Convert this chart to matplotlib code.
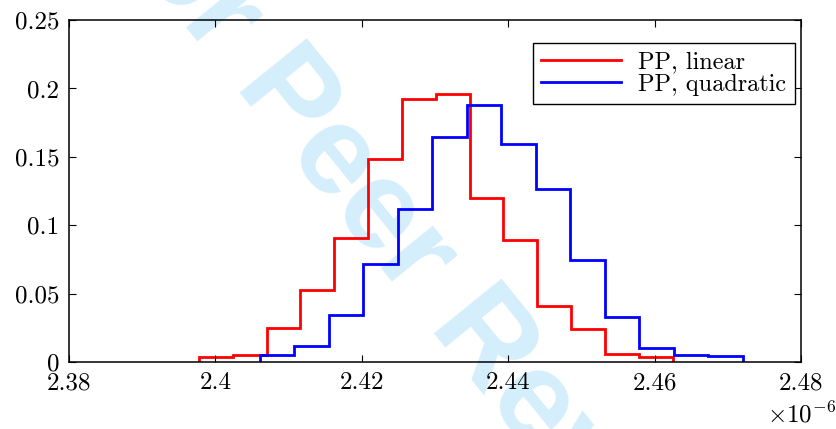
import numpy as np
import matplotlib
matplotlib.use("Agg")
import matplotlib.pyplot as plt
from matplotlib.ticker import FuncFormatter

plt.rcParams["font.family"] = "serif"
plt.rcParams["font.serif"] = ["cmr10"]
plt.rcParams["mathtext.fontset"] = "cm"
plt.rcParams["axes.unicode_minus"] = False

# Histogram bin edges (in units of 1e-6) and normalised bin heights
linear_edges = [2.39775, 2.40237, 2.40699, 2.41160, 2.41622, 2.42084, 2.42546,
                2.43008, 2.43469, 2.43931, 2.44393, 2.44855, 2.45317, 2.45778,
                2.46240]
linear_freq = [0.0041, 0.0051, 0.0253, 0.0526, 0.0906, 0.1485, 0.1921,
               0.1962, 0.1202, 0.0895, 0.0411, 0.0243, 0.0063, 0.0041]

quad_edges = [2.40608, 2.41078, 2.41549, 2.42020, 2.42490, 2.42961, 2.43432,
              2.43902, 2.44373, 2.44843, 2.45314, 2.45785, 2.46255, 2.46726,
              2.47197]
quad_freq = [0.0051, 0.0117, 0.0345, 0.0718, 0.1120, 0.1643, 0.1879,
             0.1597, 0.1266, 0.0747, 0.0329, 0.0104, 0.0051, 0.0044]

labels = ["PP, linear", "PP, quadratic"]
x_ticks = [2.38, 2.40, 2.42, 2.44, 2.46, 2.48]
y_ticks = [0, 0.05, 0.1, 0.15, 0.2, 0.25]
scale = 1e-6

fig = plt.figure(figsize=(8.37, 4.29), dpi=100)
ax = fig.add_axes([69 / 837, 1 - 362.3 / 429, 732.5 / 837, 342.3 / 429])
ax.patch.set_alpha(0)

# Review watermark behind the plot
fig.text(0.0993, 1.2322, "For Peer Review", rotation=-51, rotation_mode="anchor",
         ha="left", va="baseline", fontsize=91, fontweight="bold",
         family="Liberation Sans", color="#d4eefb", zorder=-5)

ax.stairs(linear_freq, np.array(linear_edges) * scale, color="#ff0000",
          linewidth=2.0, baseline=0, label=labels[0])
ax.stairs(quad_freq, np.array(quad_edges) * scale, color="#0000ff",
          linewidth=2.0, baseline=0, label=labels[1])

ax.set_xlim(x_ticks[0] * scale, x_ticks[-1] * scale)
ax.set_ylim(y_ticks[0], y_ticks[-1])
ax.set_xticks(np.array(x_ticks) * scale)
ax.set_yticks(y_ticks)
ax.xaxis.set_major_formatter(FuncFormatter(lambda v, p: "%g" % round(v / scale, 4)))
ax.yaxis.set_major_formatter(FuncFormatter(lambda v, p: "%g" % round(v, 4)))

ax.tick_params(direction="in", length=5, width=0.8, top=True, right=True,
               labelsize=18, pad=7, colors="black")
for s in ax.spines.values():
    s.set_linewidth(1.1)

ax.text(1.0, -0.177, r"$\times10^{-6}$", transform=ax.transAxes,
        ha="center", va="baseline", fontsize=18)

leg = ax.legend(loc="upper right", bbox_to_anchor=(0.991, 0.933),
                borderaxespad=0, fontsize=17.5, frameon=True, fancybox=False,
                edgecolor="black", framealpha=1, handlelength=3.3,
                handletextpad=0.7, labelspacing=0.0, borderpad=0.35)
leg.get_frame().set_linewidth(1.0)

fig.savefig("out.png", dpi=100)
